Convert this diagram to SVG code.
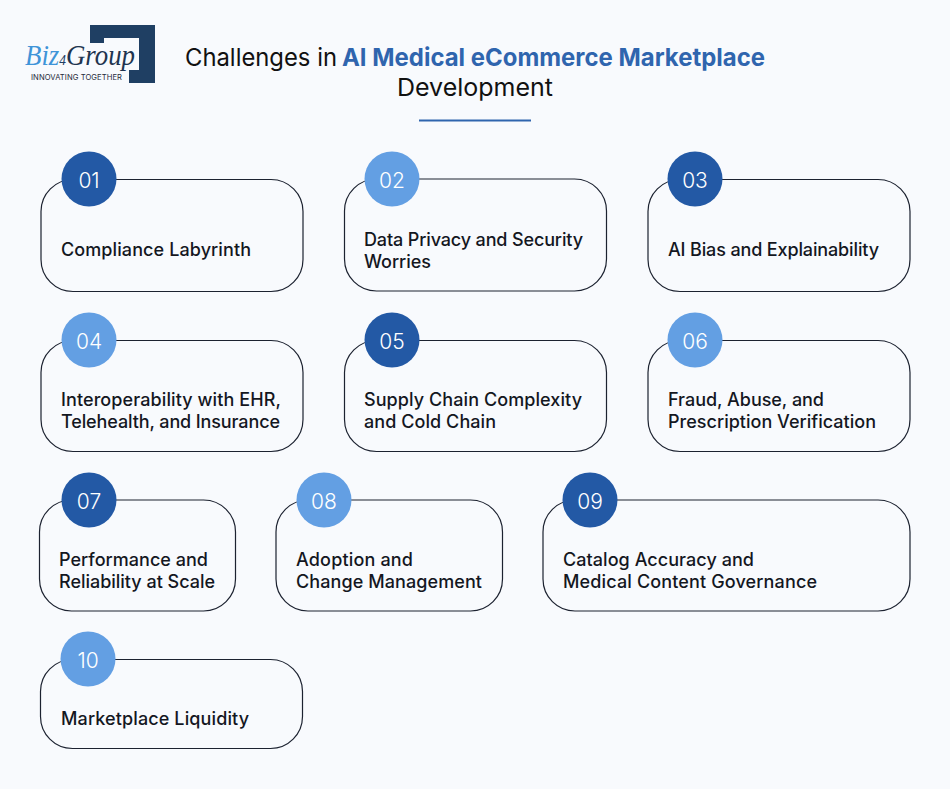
<svg xmlns="http://www.w3.org/2000/svg" width="950" height="789" viewBox="0 0 950 789">
<style>
.card{fill:none;stroke:#1c2230;stroke-width:1.2}
.t{font-family:"Inter","Liberation Sans",sans-serif;font-size:18px;font-weight:500;fill:#14171f}
.n{font-family:"Inter","Liberation Sans",sans-serif;font-size:21px;font-weight:300;fill:#fff;text-anchor:middle}
.h{font-family:"Inter","Liberation Sans",sans-serif;font-size:24.5px;fill:#111}
.d{fill:#2359a5}
.l{fill:#639fe3}
</style>
<rect width="950" height="789" fill="#f8fafd"/>
<g id="logo">
<polygon points="90,25 155,25 155,83 129,83 129,70 139,70 139,38 104,38 104,43 90,43" fill="#1f3f63"/>
<text x="25" y="65" font-family="Liberation Serif,serif" font-style="italic" font-size="30" fill="#1f3550" textLength="110" lengthAdjust="spacingAndGlyphs"><tspan fill="#3f94d8">Biz</tspan><tspan font-size="15" fill="#1f3f63">4</tspan>Group</text>
<text x="31" y="80" font-family="Inter,Liberation Sans,sans-serif" font-size="7.6" fill="#1f2b3a" textLength="91">INNOVATING TOGETHER</text>
</g>
<g id="title">
<text class="h" x="185" y="66" textLength="152" lengthAdjust="spacingAndGlyphs">Challenges in</text>
<text class="h" x="342" y="66" font-weight="700" style="fill:#2f65ae" textLength="423" lengthAdjust="spacingAndGlyphs">AI Medical eCommerce Marketplace</text>
<text class="h" x="397" y="96" textLength="156" lengthAdjust="spacingAndGlyphs">Development</text>
<rect x="419" y="119.500" width="112" height="2" fill="#2f65ae"/>
</g>
<g id="node-01"><rect class="card" x="41" y="179.500" width="262" height="112" rx="32"/><circle class="d" cx="89" cy="179" r="27.500"/><text class="n" x="89" y="188">01</text><text class="t" x="61" y="256" textLength="190">Compliance Labyrinth</text></g>
<g id="node-02"><rect class="card" x="344.500" y="179" width="262" height="112" rx="32"/><circle class="l" cx="392" cy="179" r="27.500"/><text class="n" x="392" y="188">02</text><text class="t" x="364" y="246" textLength="219">Data Privacy and Security</text><text class="t" x="364" y="268" textLength="67">Worries</text></g>
<g id="node-03"><rect class="card" x="648" y="179.500" width="262" height="112" rx="32"/><circle class="d" cx="695" cy="179" r="27.500"/><text class="n" x="695" y="188">03</text><text class="t" x="668" y="256" textLength="211">AI Bias and Explainability</text></g>
<g id="node-04"><rect class="card" x="41" y="340.500" width="262" height="111" rx="32"/><circle class="l" cx="89" cy="340" r="27.500"/><text class="n" x="89" y="349">04</text><text class="t" x="61" y="406" textLength="220">Interoperability with EHR,</text><text class="t" x="61" y="428" textLength="219">Telehealth, and Insurance</text></g>
<g id="node-05"><rect class="card" x="344.500" y="340.500" width="262" height="111" rx="32"/><circle class="d" cx="392" cy="340" r="27.500"/><text class="n" x="392" y="349">05</text><text class="t" x="364" y="406" textLength="218">Supply Chain Complexity</text><text class="t" x="364" y="428" textLength="132">and Cold Chain</text></g>
<g id="node-06"><rect class="card" x="648" y="340.500" width="262" height="111" rx="32"/><circle class="l" cx="695" cy="340" r="27.500"/><text class="n" x="695" y="349">06</text><text class="t" x="668" y="406" textLength="156">Fraud, Abuse, and</text><text class="t" x="668" y="428" textLength="208">Prescription Verification</text></g>
<g id="node-07"><rect class="card" x="39.500" y="500" width="196" height="111" rx="32"/><circle class="d" cx="89" cy="500" r="27.500"/><text class="n" x="89" y="509">07</text><text class="t" x="59" y="566" textLength="149">Performance and</text><text class="t" x="59" y="588" textLength="156">Reliability at Scale</text></g>
<g id="node-08"><rect class="card" x="276" y="500" width="226.500" height="111" rx="32"/><circle class="l" cx="324" cy="500" r="27.500"/><text class="n" x="324" y="509">08</text><text class="t" x="296" y="566" textLength="117">Adoption and</text><text class="t" x="296" y="588" textLength="186">Change Management</text></g>
<g id="node-09"><rect class="card" x="543" y="500" width="367" height="111" rx="32"/><circle class="d" cx="590" cy="500" r="27.500"/><text class="n" x="590" y="509">09</text><text class="t" x="563" y="566" textLength="191">Catalog Accuracy and</text><text class="t" x="563" y="588" textLength="254">Medical Content Governance</text></g>
<g id="node-10"><rect class="card" x="40.500" y="659.500" width="262" height="89" rx="32"/><circle class="l" cx="88" cy="659" r="27.500"/><text class="n" x="88" y="668">10</text><text class="t" x="61" y="725" textLength="188">Marketplace Liquidity</text></g>
<g id="connectors"/>
</svg>
